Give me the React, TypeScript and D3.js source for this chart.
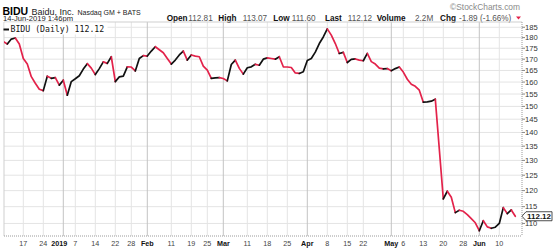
import React from 'react';
import * as d3 from 'd3';

const dates: string[] = [
  '2018-12-10','2018-12-11','2018-12-12','2018-12-13','2018-12-14','2018-12-17','2018-12-18','2018-12-19','2018-12-20','2018-12-21','2018-12-24','2018-12-26','2018-12-27','2018-12-28','2018-12-31',
  '2019-01-02','2019-01-03','2019-01-04','2019-01-07','2019-01-08','2019-01-09','2019-01-10','2019-01-11','2019-01-14','2019-01-15','2019-01-16','2019-01-17','2019-01-18','2019-01-22','2019-01-23','2019-01-24','2019-01-25','2019-01-28','2019-01-29','2019-01-30','2019-01-31',
  '2019-02-01','2019-02-04','2019-02-05','2019-02-06','2019-02-07','2019-02-08','2019-02-11','2019-02-12','2019-02-13','2019-02-14','2019-02-15','2019-02-19','2019-02-20','2019-02-21','2019-02-22','2019-02-25','2019-02-26','2019-02-27','2019-02-28',
  '2019-03-01','2019-03-04','2019-03-05','2019-03-06','2019-03-07','2019-03-08','2019-03-11','2019-03-12','2019-03-13','2019-03-14','2019-03-15','2019-03-18','2019-03-19','2019-03-20','2019-03-21','2019-03-22','2019-03-25','2019-03-26','2019-03-27','2019-03-28','2019-03-29',
  '2019-04-01','2019-04-02','2019-04-03','2019-04-04','2019-04-05','2019-04-08','2019-04-09','2019-04-10','2019-04-11','2019-04-12','2019-04-15','2019-04-16','2019-04-17','2019-04-18','2019-04-22','2019-04-23','2019-04-24','2019-04-25','2019-04-26','2019-04-29','2019-04-30',
  '2019-05-01','2019-05-02','2019-05-03','2019-05-06','2019-05-07','2019-05-08','2019-05-09','2019-05-10','2019-05-13','2019-05-14','2019-05-15','2019-05-16','2019-05-17','2019-05-20','2019-05-21','2019-05-22','2019-05-23','2019-05-24','2019-05-28','2019-05-29','2019-05-30','2019-05-31',
  '2019-06-03','2019-06-04','2019-06-05','2019-06-06','2019-06-07','2019-06-10','2019-06-11','2019-06-12','2019-06-13','2019-06-14',
];

const closes: number[] = [
  178.1, 177.0, 179.3, 179.8, 177.0, 170.3, 167.8, 162.3, 159.5, 157.0, 156.4, 162.5, 161.6, 161.9, 158.7,
  160.8, 154.5, 160.2, 161.4, 162.7, 165.6, 168.0, 166.0, 163.2, 165.8, 168.8, 168.1, 171.1, 160.2, 162.2, 162.5, 166.6, 166.5, 164.8, 170.3, 171.6,
  171.4, 173.7, 175.7, 174.3, 172.9, 170.3, 167.8, 169.6, 171.9, 173.7, 169.6, 171.9, 171.4, 171.1, 166.9, 165.1, 161.6, 161.8, 161.9,
  161.5, 160.5, 167.6, 169.6, 165.9, 163.4, 166.2, 166.6, 167.7, 167.3, 170.0, 170.6, 170.3, 170.0, 171.1, 166.6, 166.5, 166.3, 163.9, 163.7, 164.4,
  169.4, 170.3, 173.2, 177.2, 180.3, 184.2, 181.2, 177.2, 172.6, 173.1, 168.5, 169.9, 170.1, 169.6, 169.3, 172.6, 168.9, 167.8, 166.0, 165.7, 165.8,
  164.9, 165.8, 166.5, 164.3, 161.2, 159.1, 158.2, 156.6, 151.7, 151.8, 152.1, 152.9, 134.0, 117.4, 119.8, 117.9, 113.2, 113.9, 113.6, 112.6, 111.4, 110.2,
  107.9, 110.8, 109.0, 108.6, 108.9, 110.0, 114.7, 112.9, 114.01, 112.12,
];

const yTicks: number[] = [110, 115, 120, 125, 130, 135, 140, 145, 150, 155, 160, 165, 170, 175, 180, 185];

const xLabelDates: string[] = [
  '2018-12-17','2018-12-24','2019-01-02','2019-01-07','2019-01-14','2019-01-22','2019-01-28',
  '2019-02-01','2019-02-11','2019-02-19','2019-02-25','2019-03-01','2019-03-11','2019-03-18','2019-03-25',
  '2019-04-01','2019-04-08','2019-04-15','2019-04-22','2019-05-01','2019-05-06','2019-05-13','2019-05-20','2019-05-28',
  '2019-06-03','2019-06-10',
];
const xLabelTexts: string[] = [
  '17','24','2019','7','14','22','28','Feb','11','19','25','Mar','11','18','25','Apr','8','15','22','May','6','13','20','28','Jun','10',
];

const headerKeys: string[] = ['Open', 'High', 'Low', 'Last', 'Volume', 'Chg'];
const headerValues: string[] = ['112.81', '113.07', '111.60', '112.12', '2.2M', '-1.89 (-1.66%)'];
// layout: left edge of each key / value in the header line
const headerKeyX: number[] = [166.7, 218.3, 273.3, 325, 376.7, 440];
const headerValX: number[] = [188.3, 242.7, 291.7, 347.7, 415, 459];

const UP = '#111111';
const DOWN = '#e3224a';
const SANS = "'Liberation Sans', Arial, sans-serif";

export default function App() {
  const W = 560, H = 252;
  const left = 4, right = 522, top = 22, bottom = 236;

  const x = d3.scalePoint<string>().domain(dates).range([3.3, 515.3]);
  const y = d3.scaleLog().domain([106.4, 187.6]).range([bottom, top]);

  const runs: { color: string; pts: [number, number][] }[] = [];
  for (let i = 1; i < closes.length; i++) {
    const color = closes[i] >= closes[i - 1] ? UP : DOWN;
    const p0: [number, number] = [x(dates[i - 1])!, y(closes[i - 1])];
    const p1: [number, number] = [x(dates[i])!, y(closes[i])];
    const last = runs[runs.length - 1];
    if (last && last.color === color) last.pts.push(p1);
    else runs.push({ color, pts: [p0, p1] });
  }
  const line = d3.line<[number, number]>().x(d => d[0]).y(d => d[1]);

  const lastVal = closes[closes.length - 1];
  const ly = y(lastVal);

  const isMajor = (t: string) => !/^\d{1,2}$/.test(t);

  return (
    <svg width={W} height={H} style={{ position: 'fixed', left: 0, top: 0, background: '#fff' }}
      fontFamily={SANS}>
      <rect x={0} y={0} width={W} height={H} fill="#fff" />
      <defs>
        <clipPath id="plotclip">
          <rect x={left} y={top} width={right - left} height={bottom - top} />
        </clipPath>
      </defs>

      {/* header */}
      <text x={2.5} y={15} fontSize={10.5} fontWeight="bold" fill="#000">BIDU</text>
      <text x={31.5} y={15} fontSize={9} fill="#222">Baidu, Inc.</text>
      <text x={77.5} y={15} fontSize={7} fill="#222">Nasdaq GM + BATS</text>
      <text x={3} y={20.5} fontSize={7.6} fill="#222">14-Jun-2019 1:46pm</text>
      <text x={520} y={10} fontSize={8.4} fill="#8a8a8a" textAnchor="end">©StockCharts.com</text>
      {headerKeys.map((k, i) => (
        <text key={k} x={headerKeyX[i]} y={20.5} fontSize={8.2} fontWeight="bold" fill="#111">{k}</text>
      ))}
      {headerValues.map((v, i) => (
        <text key={'hv' + i} x={headerValX[i]} y={20.5} fontSize={8.2} fill="#555">{v}</text>
      ))}
      <path d="M516,16.5 L521,16.5 L518.5,19.5 Z" fill={DOWN} />

      {/* grid */}
      {yTicks.map(t => (
        <line key={'h' + t} x1={left} x2={right} y1={y(t)} y2={y(t)} stroke="#e4e4e4" strokeWidth={1} />
      ))}
      {xLabelDates.map((d, i) => (
        <line key={'v' + d} x1={x(d)} x2={x(d)} y1={top} y2={bottom}
          stroke={isMajor(xLabelTexts[i]) ? '#c4c4c4' : '#e4e4e4'} strokeWidth={1} />
      ))}
      {/* frame */}
      <line x1={left} x2={right} y1={top} y2={top} stroke="#cfcfcf" />
      <line x1={left} x2={left} y1={top} y2={bottom} stroke="#cfcfcf" />
      <line x1={left} x2={right} y1={bottom} y2={bottom} stroke="#9a9a9a" strokeDasharray="1,1" />
      <line x1={right} x2={right} y1={top} y2={bottom} stroke="#9a9a9a" strokeDasharray="1,1" />

      {/* price line */}
      <g clipPath="url(#plotclip)">
        {runs.map((r, i) => (
          <path key={i} d={line(r.pts)!} fill="none" stroke={r.color} strokeWidth={1.7}
            strokeLinejoin="round" strokeLinecap="round" />
        ))}
      </g>

      {/* legend */}
      <rect x={left + 0.5} y={top + 0.5} width={103} height={12} fill="#fff" />
      <line x1={3.5} x2={9} y1={29.5} y2={29.5} stroke="#111" strokeWidth={2} />
      <text x={10.5} y={32} fontSize={8.2} fontFamily="'DejaVu Sans Mono', monospace" fill="#111">
        BIDU (Daily) {lastVal.toFixed(2)}
      </text>

      {/* y axis */}
      {yTicks.map(t => (
        <g key={'yt' + t}>
          <line x1={right} x2={right + 3} y1={y(t)} y2={y(t)} stroke="#888" />
          <text x={525} y={y(t) + 2.7} fontSize={7.6} fill="#333">{t}</text>
        </g>
      ))}

      {/* x axis labels */}
      {xLabelDates.map((d, i) => {
        const t = xLabelTexts[i];
        const year = /^\d{4}$/.test(t);
        return (
          <text key={'xl' + d} x={x(d)! + (year ? -4 : 0)} y={245.5} fontSize={7.2}
            textAnchor="middle" fontWeight={isMajor(t) ? 'bold' : 'normal'}
            fill={isMajor(t) ? '#111' : '#444'}>{t}</text>
        );
      })}

      {/* last price tag */}
      <path d={`M${right},${ly} L${right + 4},${ly - 4.5} L552,${ly - 4.5} L552,${ly + 4.5} L${right + 4},${ly + 4.5} Z`}
        fill="#fff" stroke="#222" strokeWidth={0.8} />
      <text x={539} y={ly + 2.9} fontSize={8} fontWeight="bold" textAnchor="middle" fill="#111">{lastVal.toFixed(2)}</text>
    </svg>
  );
}
